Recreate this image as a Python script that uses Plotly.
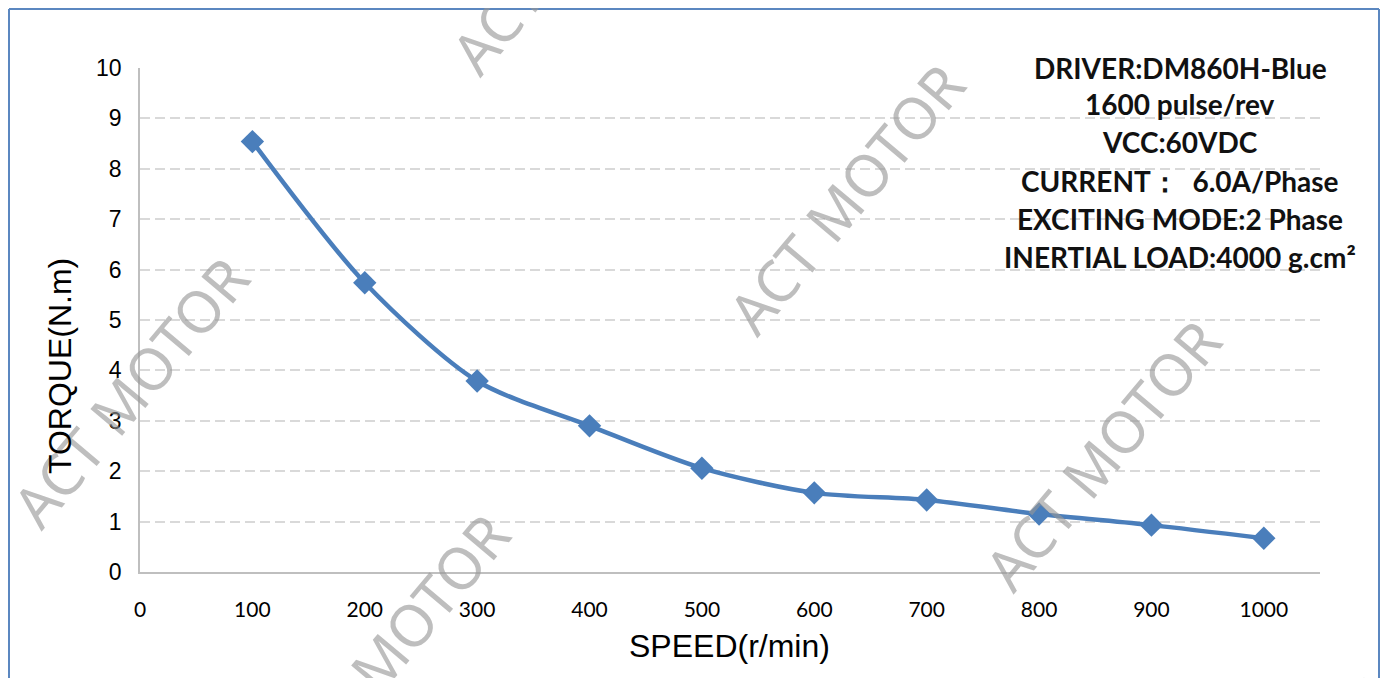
import plotly.graph_objects as go

speed = [100, 200, 300, 400, 500, 600, 700, 800, 900, 1000]
torque = [8.54, 5.74, 3.79, 2.90, 2.06, 1.57, 1.43, 1.15, 0.93, 0.67]
x_ticks = [0, 100, 200, 300, 400, 500, 600, 700, 800, 900, 1000]
y_ticks = [0, 1, 2, 3, 4, 5, 6, 7, 8, 9, 10]
info_lines = [
    "DRIVER:DM860H-Blue",
    "1600 pulse/rev",
    "VCC:60VDC",
    "CURRENT：  6.0A/Phase",
    "EXCITING MODE:2 Phase",
    "INERTIAL LOAD:4000 g.cm²",
]
watermark_centers = [(845, 198), (130, 392), (1102, 455), (568, -62), (390, 648), (1470, 580)]

# page body has an 8px margin; figure is sized so it fits without scrollbars.
# plot area sits at screen x 140..1320, y 68..572
OFF = 8
W, H = 1390 - OFF, 678 - OFF
L, T = 140 - OFF, 68 - OFF
PW, PH = 1180, 504
R, B = W - L - PW, H - T - PH


def px(x):
    return (x - OFF - L) / PW


def py(y):
    return (T + PH - (y - OFF)) / PH


blue = "#4a7ebb"
fig = go.Figure()
fig.add_trace(go.Scatter(
    x=speed, y=torque, mode="lines+markers",
    line=dict(color=blue, width=4.5, shape="spline", smoothing=0.8),
    marker=dict(symbol="diamond", size=18, color=blue),
    showlegend=False, hoverinfo="skip",
))

annotations = []
for (cx, cy) in watermark_centers:
    annotations.append(dict(
        x=px(cx), y=py(cy), xref="paper", yref="paper", text="ACT MOTOR",
        showarrow=False, textangle=-50, xanchor="center", yanchor="middle",
        font=dict(family="Noto Sans", size=58, color="rgba(150,150,150,0.62)"),
    ))

line_y = [68, 104, 142, 181, 219, 257]
for txt, ly in zip(info_lines, line_y):
    annotations.append(dict(
        x=px(1180), y=py(ly), xref="paper", yref="paper", text="<b>%s</b>" % txt,
        showarrow=False, xanchor="center", yanchor="middle",
        font=dict(family="Lato", size=28, color="#111111"),
    ))

annotations.append(dict(
    x=px(729), y=py(646), xref="paper", yref="paper", text="SPEED(r/min)",
    showarrow=False, xanchor="center", yanchor="middle",
    font=dict(family="Liberation Sans", size=32, color="#000000"),
))
annotations.append(dict(
    x=px(60), y=py(366), xref="paper", yref="paper", text="TORQUE(N.m)",
    showarrow=False, xanchor="center", yanchor="middle", textangle=-90,
    font=dict(family="Liberation Sans", size=32, color="#000000"),
))

border = dict(color="#5b87c0", width=2)
shapes = [
    dict(type="line", xref="paper", yref="paper", x0=px(9), x1=px(1379), y0=py(9), y1=py(9), line=border),
    dict(type="line", xref="paper", yref="paper", x0=px(9), x1=px(9), y0=py(9), y1=py(700), line=border),
    dict(type="line", xref="paper", yref="paper", x0=px(1379), x1=px(1379), y0=py(9), y1=py(700), line=border),
]

fig.update_layout(
    width=W, height=H,
    margin=dict(l=L, r=R, t=T, b=B),
    paper_bgcolor="white", plot_bgcolor="white",
    annotations=annotations, shapes=shapes,
    xaxis=dict(
        range=[0, 1050], tickvals=x_ticks, ticktext=[str(v) for v in x_ticks],
        showgrid=False, zeroline=False, showline=True, linecolor="#bfbfbf", linewidth=1.5,
        ticks="", tickfont=dict(family="Lato", size=21, color="#000000"),
        ticklabelstandoff=18,
    ),
    yaxis=dict(
        range=[0, 10], tickvals=y_ticks, ticktext=[str(v) for v in y_ticks],
        showgrid=True, gridcolor="#d9d9d9", griddash="10px,5px", gridwidth=1.5,
        zeroline=False, showline=True, linecolor="#bfbfbf", linewidth=1.5,
        ticks="", tickfont=dict(family="Liberation Sans", size=23, color="#000000"),
        ticklabelstandoff=12,
    ),
)

fig.write_html("out.html")
